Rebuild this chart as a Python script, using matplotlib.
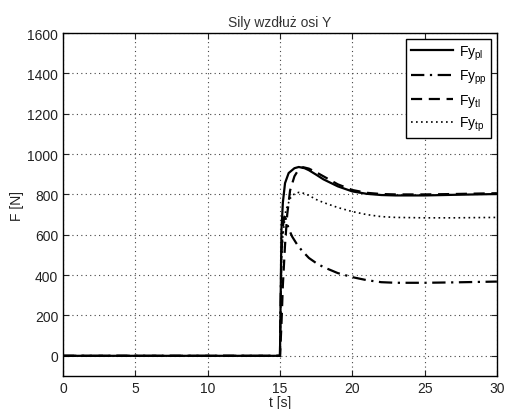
import numpy as np
import matplotlib.pyplot as plt

plt.rcParams['font.family'] = ['Liberation Sans', 'DejaVu Sans']
plt.rcParams['mathtext.default'] = 'regular'

# values
t_pl = [0, 15.0, 15.05, 15.1, 15.2, 15.35, 15.6, 16.0, 16.3, 16.7, 17.0, 17.5, 18.0, 19.0, 20.0, 21.0, 22.0, 23.0, 25.0, 27.0, 30.0]
fy_pl = [0, 0, 300, 620, 760, 856, 906, 930, 936, 930, 920, 898, 875, 840, 815, 803, 797, 795, 795, 798, 802]

t_pp = [0, 15.0, 15.05, 15.1, 15.2, 15.3, 15.4, 15.6, 15.85, 16.2, 16.5, 17.0, 17.5, 18.0, 19.0, 20.0, 21.0, 22.0, 23.0, 25.0, 27.0, 30.0]
fy_pp = [0, 0, 300, 500, 640, 690, 680, 630, 590, 550, 523, 485, 460, 440, 410, 390, 375, 365, 362, 362, 364, 368]

t_tl = [0, 15.0, 15.1, 15.2, 15.35, 15.5, 15.7, 16.0, 16.3, 16.6, 17.0, 17.5, 18.0, 19.0, 20.0, 21.0, 22.0, 23.0, 25.0, 27.0, 30.0]
fy_tl = [0, 0, 150, 350, 550, 700, 820, 890, 925, 935, 928, 910, 890, 850, 822, 808, 802, 800, 800, 802, 806]

t_tp = [0, 15.0, 15.05, 15.1, 15.2, 15.4, 15.7, 16.0, 16.3, 16.7, 17.0, 17.5, 18.0, 19.0, 20.0, 21.0, 22.0, 23.0, 25.0, 27.0, 30.0]
fy_tp = [0, 0, 250, 450, 600, 720, 780, 803, 810, 805, 795, 775, 760, 735, 715, 700, 690, 686, 684, 684, 686]

fig = plt.figure(figsize=(5.05, 4.10), dpi=100)
ax = fig.add_axes([0.1248, 0.0805, 0.8592, 0.8365])

ax.plot(t_pl, fy_pl, color='black', lw=1.6, ls='-', label='Fy$_{pl}$')
ax.plot(t_pp, fy_pp, color='black', lw=1.6, ls=(0, (6, 2.5, 1, 2.5)), label='Fy$_{pp}$')
ax.plot(t_tl, fy_tl, color='black', lw=1.6, ls=(0, (5, 3)), label='Fy$_{tl}$')
ax.plot(t_tp, fy_tp, color='black', lw=1.2, ls=(0, (1, 2)), label='Fy$_{tp}$')

ax.set_xlim(0, 30)
ax.set_ylim(-100, 1600)
ax.set_xticks(np.arange(0, 31, 5))
ax.set_yticks(np.arange(0, 1601, 200))
ax.grid(True, ls=(0, (1, 3)), color='#444444', lw=0.8)
ax.tick_params(direction='in', top=True, right=True, labelsize=10, length=4, colors='#222222')
for s in ax.spines.values():
    s.set_linewidth(1.0)

ax.set_xlabel('t [s]', fontsize=10, labelpad=0, color='#222222')
ax.set_ylabel('F [N]', fontsize=10, labelpad=2, color='#222222')
ax.set_title('Sily wzdłuż osi Y', fontsize=10, pad=5, color='#333333')

leg = ax.legend(loc='upper right', fontsize=10, fancybox=False, edgecolor='black',
                framealpha=1, handlelength=3.0, handletextpad=0.4, borderpad=0.35,
                labelspacing=0.42, borderaxespad=0.4)
leg.get_frame().set_linewidth(1.0)

plt.savefig('out.png', dpi=100)
